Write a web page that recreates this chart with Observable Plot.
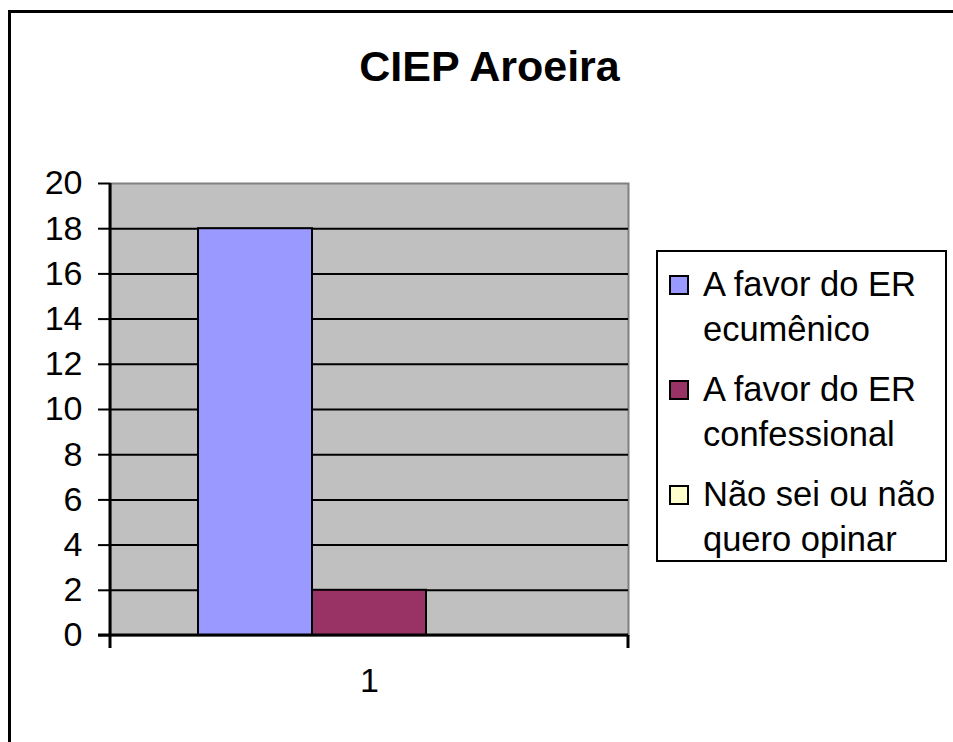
<!DOCTYPE html>
<html>
<head>
<meta charset="utf-8">
<script src="https://cdn.jsdelivr.net/npm/d3@7"></script>
<script src="https://cdn.jsdelivr.net/npm/@observablehq/plot@0.6"></script>
<style>
  html, body { margin: 0; padding: 0; background: #fff; overflow: hidden; }
  #page { position: relative; width: 953px; height: 742px; font-family: "Liberation Sans", Arial, sans-serif; color: #000; }
  #border { position: absolute; left: 8px; top: 10px; width: 1200px; height: 1000px; border: 3px solid #000; box-sizing: border-box; }
  #chart { position: absolute; left: 0; top: 0; }
  #title { position: absolute; left: 0; width: 979px; top: 40px; text-align: center; font-weight: bold; font-size: 43px; line-height: 52px; }
  #legend { position: absolute; left: 656px; top: 250px; width: 291px; height: 312px; border: 2px solid #000; box-sizing: border-box; background: #fff; padding-top: 10px; }
  .item { position: relative; padding-left: 45px; font-size: 34.5px; line-height: 44.5px; margin-bottom: 16px; white-space: nowrap; }
  .sw { position: absolute; left: 11px; top: 13px; width: 20px; height: 20px; border: 2px solid #000; box-sizing: border-box; }
</style>
</head>
<body>
<div id="page">
  <div id="border"></div>
  <div id="chart"></div>
  <div id="title"></div>
  <div id="legend"></div>
</div>
<script>
const title = "CIEP Aroeira";
const categories = ["1"];
const series = ["A favor do ER ecumênico", "A favor do ER confessional", "Não sei ou não quero opinar"];
const seriesLines = [["A favor do ER", "ecumênico"], ["A favor do ER", "confessional"], ["Não sei ou não", "quero opinar"]];
const values = [18, 2, 0];
const colors = ["#9999FF", "#993366", "#FFFFCC"];
const yTicks = [0, 2, 4, 6, 8, 10, 12, 14, 16, 18, 20];

const data = series.map((s, i) => ({series: s, value: values[i], category: categories[0]}));

const axisLines = (index, scales, values, dim) => {
  const g = d3.create("svg:g");
  const x0 = dim.marginLeft, x1 = dim.width - dim.marginRight;
  const y0 = dim.marginTop, yb = dim.height - dim.marginBottom;
  g.append("line").attr("x1", x0).attr("x2", x0).attr("y1", y0).attr("y2", yb + 13)
    .attr("stroke", "#000").attr("stroke-width", 3);
  g.append("line").attr("x1", x0 - 12).attr("x2", x1).attr("y1", yb).attr("y2", yb)
    .attr("stroke", "#000").attr("stroke-width", 3);
  g.append("line").attr("x1", x1).attr("x2", x1).attr("y1", yb).attr("y2", yb + 13)
    .attr("stroke", "#000").attr("stroke-width", 3);
  return g.node();
};

const chart = Plot.plot({
  width: 953,
  height: 742,
  marginLeft: 110,
  marginRight: 325,
  marginTop: 183,
  marginBottom: 107,
  style: {fontFamily: "'Liberation Sans', Arial, sans-serif", color: "#000", background: "transparent"},
  x: {type: "band", domain: series, paddingInner: 0, paddingOuter: 0.7585, axis: null},
  y: {domain: [0, 20], axis: null, label: null},
  marks: [
    Plot.frame({fill: "#C0C0C0", stroke: "#808080", strokeWidth: 2}),
    Plot.gridY(yTicks.slice(1, -1), {stroke: "#000", strokeOpacity: 1, strokeWidth: 2}),
    Plot.barY(data, {x: "series", y: "value", fill: (d) => colors[series.indexOf(d.series)], stroke: "#000", strokeWidth: 2}),
    Plot.axisY(yTicks, {label: null, tickSize: 12, tickPadding: 16, fontSize: 34, strokeWidth: 2, stroke: "#000", fill: "#000"}),
    axisLines,
    Plot.text(categories, {text: d => d, frameAnchor: "bottom", dy: 56, fontSize: 34, fill: "#000"})
  ]
});
document.getElementById("chart").appendChild(chart);
document.getElementById("title").textContent = title;

const legend = d3.select("#legend");
seriesLines.forEach((lines, i) => {
  const it = legend.append("div").attr("class", "item");
  it.append("div").attr("class", "sw").style("background", colors[i]);
  lines.forEach(l => it.append("div").text(l));
});
</script>
</body>
</html>
